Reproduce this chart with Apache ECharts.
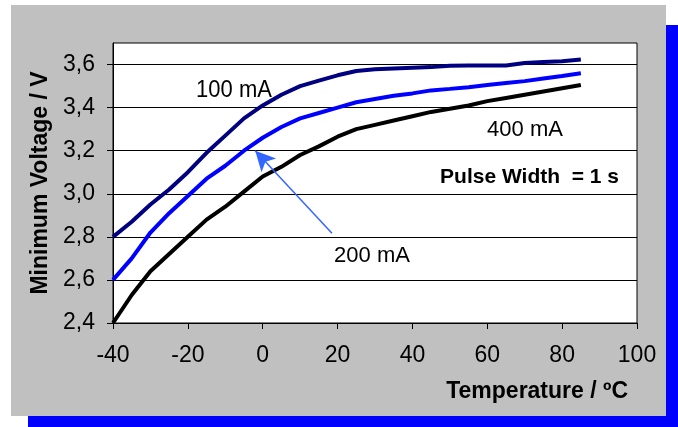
<!DOCTYPE html>
<html>
<head>
<meta charset="utf-8">
<script src="https://cdn.jsdelivr.net/npm/echarts@6/dist/echarts.min.js"></script>
<style>
html,body{margin:0;padding:0;background:#fff;}
#c{width:678px;height:427px;}
</style>
</head>
<body>
<div id="c"></div>
<script>
// Temperature (°C)
const temps = [-40,-35,-30,-25,-20,-15,-10,-5,0,5,10,15,20,25,30,35,40,45,50,55,60,65,70,75,80,85];
// Minimum voltage (V) per pulse current
const v100 = [2.80,2.87,2.95,3.02,3.10,3.19,3.27,3.35,3.41,3.46,3.50,3.525,3.55,3.57,3.578,3.582,3.585,3.588,3.594,3.595,3.595,3.596,3.607,3.612,3.615,3.623];
const v200 = [2.60,2.70,2.82,2.91,2.99,3.07,3.13,3.20,3.26,3.31,3.35,3.375,3.40,3.425,3.44,3.455,3.466,3.48,3.487,3.495,3.505,3.514,3.523,3.535,3.547,3.56];
const v400 = [2.40,2.53,2.64,2.72,2.80,2.88,2.94,3.01,3.08,3.125,3.18,3.22,3.265,3.30,3.32,3.34,3.36,3.38,3.395,3.41,3.43,3.445,3.46,3.475,3.49,3.505];
const xTicks = [-40,-20,0,20,40,60,80,100];
const yTicks = [2.4,2.6,2.8,3.0,3.2,3.4,3.6];
// arrow annotation pointing to 200 mA curve: [tail, head]
const arrow200 = [[18.5,2.817],[-2,3.2]];

const FONT = "'Liberation Sans', Arial, sans-serif";
const zip = (xs, ys) => xs.map((x,i)=>[x, ys[i]]);

const chart = echarts.init(document.getElementById('c'), null, {renderer:'canvas'});
chart.setOption({
  animation:false,
  backgroundColor:'#ffffff',
  graphic:[
    {type:'rect', z:-20, shape:{x:28,y:25,width:660,height:420}, style:{fill:'#0000ff'}},
    {type:'rect', z:-10, shape:{x:11,y:5,width:655,height:411}, style:{fill:'#c0c0c0'}},
    {type:'text', z:100, x:234, y:90, scaleY:1.1, style:{text:'100 mA', font:'22px '+FONT, fill:'#000', align:'center', verticalAlign:'middle'}},
    {type:'text', z:100, x:525, y:130, style:{text:'400 mA', font:'22px '+FONT, fill:'#000', align:'center', verticalAlign:'middle'}},
    {type:'text', z:100, x:372, y:256, style:{text:'200 mA', font:'22px '+FONT, fill:'#000', align:'center', verticalAlign:'middle'}},
    {type:'text', z:100, x:619, y:177, style:{text:'Pulse Width  = 1 s', font:'bold 21px '+FONT, fill:'#000', align:'right', verticalAlign:'middle'}},
    {type:'text', z:100, x:628, y:392, style:{text:'Temperature / \u00baC', font:'bold 23px '+FONT, fill:'#000', align:'right', verticalAlign:'middle'}}
  ],
  grid:{left:113, top:43, right:41, bottom:104, show:true, backgroundColor:'#ffffff', borderColor:'#000', borderWidth:1},
  xAxis:{
    type:'value', min:-40, max:100, interval:20,
    axisLine:{show:true, onZero:false, lineStyle:{color:'#000', width:1}},
    axisTick:{show:true, inside:false, length:6, lineStyle:{color:'#000'}},
    axisLabel:{color:'#000', fontSize:23, fontFamily:FONT, margin:21, formatter:v=>String(v)},
    splitLine:{show:false}
  },
  yAxis:{
    type:'value', min:2.4, max:3.7, interval:0.2,
    name:'Minimum Voltage / V', nameLocation:'middle', nameGap:60, nameRotate:90,
    nameTextStyle:{fontSize:23, fontWeight:'bold', fontFamily:FONT, color:'#000'},
    axisLine:{show:true, onZero:false, lineStyle:{color:'#000', width:1}},
    axisTick:{show:true, length:6, lineStyle:{color:'#000'}, customValues:yTicks},
    axisLabel:{color:'#000', fontSize:23, fontFamily:FONT, margin:18, customValues:yTicks,
      formatter:v=>Number(v).toFixed(1).replace('.', ',')},
    splitLine:{show:true, lineStyle:{color:'#000', width:1}}
  },
  series:[
    {type:'line', name:'100 mA', data:zip(temps,v100), showSymbol:false, lineStyle:{color:'#000080', width:4}, itemStyle:{color:'#000080'}, z:3},
    {type:'line', name:'200 mA', data:zip(temps,v200), showSymbol:false, lineStyle:{color:'#0000ff', width:4}, itemStyle:{color:'#0000ff'}, z:3,
      markLine:{silent:true, symbol:['none','arrow'], symbolSize:[15,20], label:{show:false},
        lineStyle:{color:'#3366ff', width:1.5, type:'solid'},
        data:[[{coord:arrow200[0]},{coord:arrow200[1]}]]}},
    {type:'line', name:'400 mA', data:zip(temps,v400), showSymbol:false, lineStyle:{color:'#000000', width:4}, itemStyle:{color:'#000'}, z:3}
  ]
});
</script>
</body>
</html>
